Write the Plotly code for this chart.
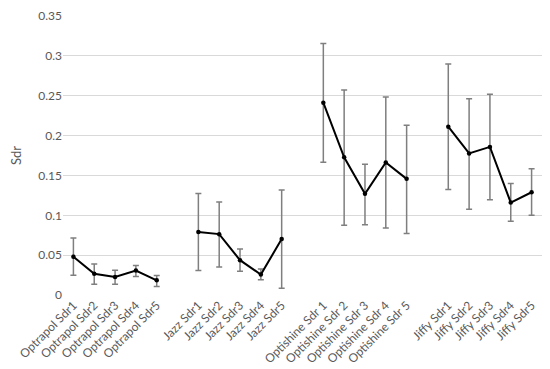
import plotly.graph_objects as go

# groups of samples, each one a separate line segment
groups = ["Optrapol", "Jazz", "Optishine", "Jiffy"]
labels = [
    ["Optrapol Sdr1", "Optrapol Sdr2", "Optrapol Sdr3", "Optrapol Sdr4", "Optrapol Sdr5"],
    ["Jazz Sdr1", "Jazz Sdr2", "Jazz Sdr3", "Jazz Sdr4", "Jazz Sdr5"],
    ["Optishine Sdr 1", "Optishine Sdr 2", "Optishine Sdr 3", "Optishine Sdr 4", "Optishine Sdr 5"],
    ["Jiffy Sdr1", "Jiffy Sdr2", "Jiffy Sdr3", "Jiffy Sdr4", "Jiffy Sdr5"],
]
means = [
    [0.048, 0.0266, 0.0225, 0.0306, 0.0184],
    [0.0792, 0.0764, 0.0437, 0.0257, 0.0702],
    [0.2414, 0.1728, 0.127, 0.1663, 0.1458],
    [0.2112, 0.1777, 0.1859, 0.116, 0.129],
]
upper = [
    [0.0714, 0.0388, 0.031, 0.037, 0.0245],
    [0.1275, 0.1166, 0.0576, 0.0327, 0.1317],
    [0.3158, 0.2574, 0.1642, 0.2484, 0.2132],
    [0.29, 0.2463, 0.252, 0.14, 0.1585],
]
lower = [
    [0.0249, 0.0135, 0.0135, 0.0233, 0.0107],
    [0.0306, 0.0351, 0.0298, 0.0192, 0.0086],
    [0.1667, 0.0874, 0.0882, 0.0842, 0.0772],
    [0.1324, 0.1075, 0.1197, 0.0927, 0.1001],
]

fig = go.Figure()
tickvals = []
ticktext = []
pos = 0
for g, lab, m, up, lo in zip(groups, labels, means, upper, lower):
    xs = list(range(pos, pos + len(m)))
    tickvals += xs
    ticktext += lab
    fig.add_trace(go.Scatter(
        x=xs, y=m, mode="lines+markers", name=g,
        line=dict(color="black", width=2),
        marker=dict(color="black", size=4.5),
        error_y=dict(type="data", symmetric=False,
                     array=[u - v for u, v in zip(up, m)],
                     arrayminus=[v - l for v, l in zip(m, lo)],
                     color="#7f7f7f", thickness=1.5, width=3),
    ))
    pos += len(m) + 1  # empty slot between groups

# page body has an 8px margin, so the figure is 8px smaller than the window
fig.update_layout(
    width=542, height=361,
    margin=dict(l=55, r=8, t=8, b=74),
    plot_bgcolor="white", paper_bgcolor="white",
    showlegend=False,
    font=dict(family="Lato, Open Sans", size=12, color="#595959"),
)
fig.update_xaxes(
    range=[-0.5, pos - 1 - 0.5], tickvals=tickvals, ticktext=ticktext,
    tickangle=-45, showgrid=False, zeroline=False, showline=False,
    automargin=False, ticks="", ticklen=0,
    tickfont=dict(size=12, color="#595959"),
)
fig.update_yaxes(
    range=[0, 0.3502], tick0=0, dtick=0.05, tickformat="~g",
    ticklabeloverflow="allow",
    gridcolor="#d9d9d9", gridwidth=1, zeroline=False, automargin=False,
    title=dict(text="Sdr", font=dict(size=13, color="#595959"), standoff=13),
    tickfont=dict(size=12, color="#595959"),
)
fig.write_html("out.html")
